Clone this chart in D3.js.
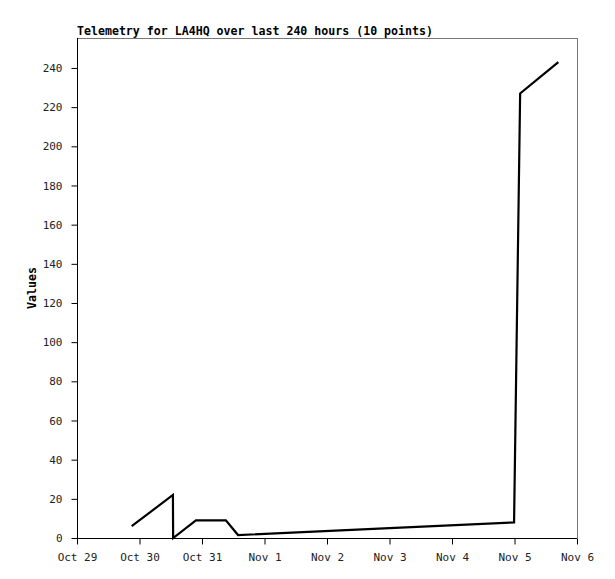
<!DOCTYPE html>
<html><head><meta charset="utf-8">
<script src="https://cdn.jsdelivr.net/npm/d3@7"></script>
<style>body{margin:0;background:#fff}svg{display:block}</style>
</head><body>
<svg id="c" width="615" height="579"></svg>
<script>
const title = "Telemetry for LA4HQ over last 240 hours (10 points)";
const yLabel = "Values";
const times = ["2023-10-29T21:00Z","2023-10-30T12:50Z","2023-10-30T12:55Z","2023-10-30T21:40Z","2023-10-31T09:10Z","2023-10-31T13:50Z","2023-11-03T00:00Z","2023-11-04T23:50Z","2023-11-05T02:10Z","2023-11-05T16:50Z"];
const values = [6, 22, 0, 9, 9, 1.5, 5, 8, 227, 243];
const xTicks = ["2023-10-29","2023-10-30","2023-10-31","2023-11-01","2023-11-02","2023-11-03","2023-11-04","2023-11-05","2023-11-06"];
const yTicks = [0,20,40,60,80,100,120,140,160,180,200,220,240];

const svg = d3.select("#c");
const L=77, R=577, T=38, B=538;
const x = d3.scaleUtc().domain([new Date("2023-10-29T00:00Z"), new Date("2023-11-06T00:00Z")]).range([L,R]);
const y = d3.scaleLinear().domain([0,255.3]).range([B,T]);
const font = "'DejaVu Sans Mono', monospace";

// frame
svg.append("line").attr("x1",L).attr("x2",R).attr("y1",T+0.5).attr("y2",T+0.5).attr("stroke","#777");
svg.append("line").attr("x1",R+0.5).attr("x2",R+0.5).attr("y1",T).attr("y2",B).attr("stroke","#777");

const fmt = d3.utcFormat("%b %-d");
const xa = svg.append("g").attr("transform",`translate(0,${B+0.5})`)
  .call(d3.axisBottom(x).tickValues(xTicks.map(d=>new Date(d+"T00:00Z"))).tickFormat(fmt).tickSize(6).tickSizeOuter(0).tickPadding(9));
const ya = svg.append("g").attr("transform",`translate(${L+0.5},0)`)
  .call(d3.axisLeft(y).tickValues(yTicks).tickSize(6).tickSizeOuter(0).tickPadding(9));
[xa,ya].forEach(g=>{
  g.select(".domain").attr("stroke","#000");
  g.selectAll(".tick line").attr("stroke","#000");
  g.selectAll("text").attr("font-family",font).attr("font-size",11).attr("fill","#222");
});
xa.select(".domain").attr("d",`M${L},0H${R}`);
ya.select(".domain").attr("d",`M0,${B}V${T}`);

const pts = times.map((t,i)=>({t:new Date(t), v:values[i]}));
svg.append("path").datum(pts)
  .attr("d", d3.line().x(d=>x(d.t)).y(d=>y(d.v)))
  .attr("fill","none").attr("stroke","#000").attr("stroke-width",2.2).attr("stroke-linejoin","miter");

svg.append("text").attr("x",L).attr("y",35).text(title)
  .attr("font-family",font).attr("font-size",11.6).attr("font-weight","bold");
svg.append("text").attr("transform","translate(36,288) rotate(-90)").attr("text-anchor","middle").text(yLabel)
  .attr("font-family",font).attr("font-size",11.6).attr("font-weight","bold");
</script>
</body></html>
